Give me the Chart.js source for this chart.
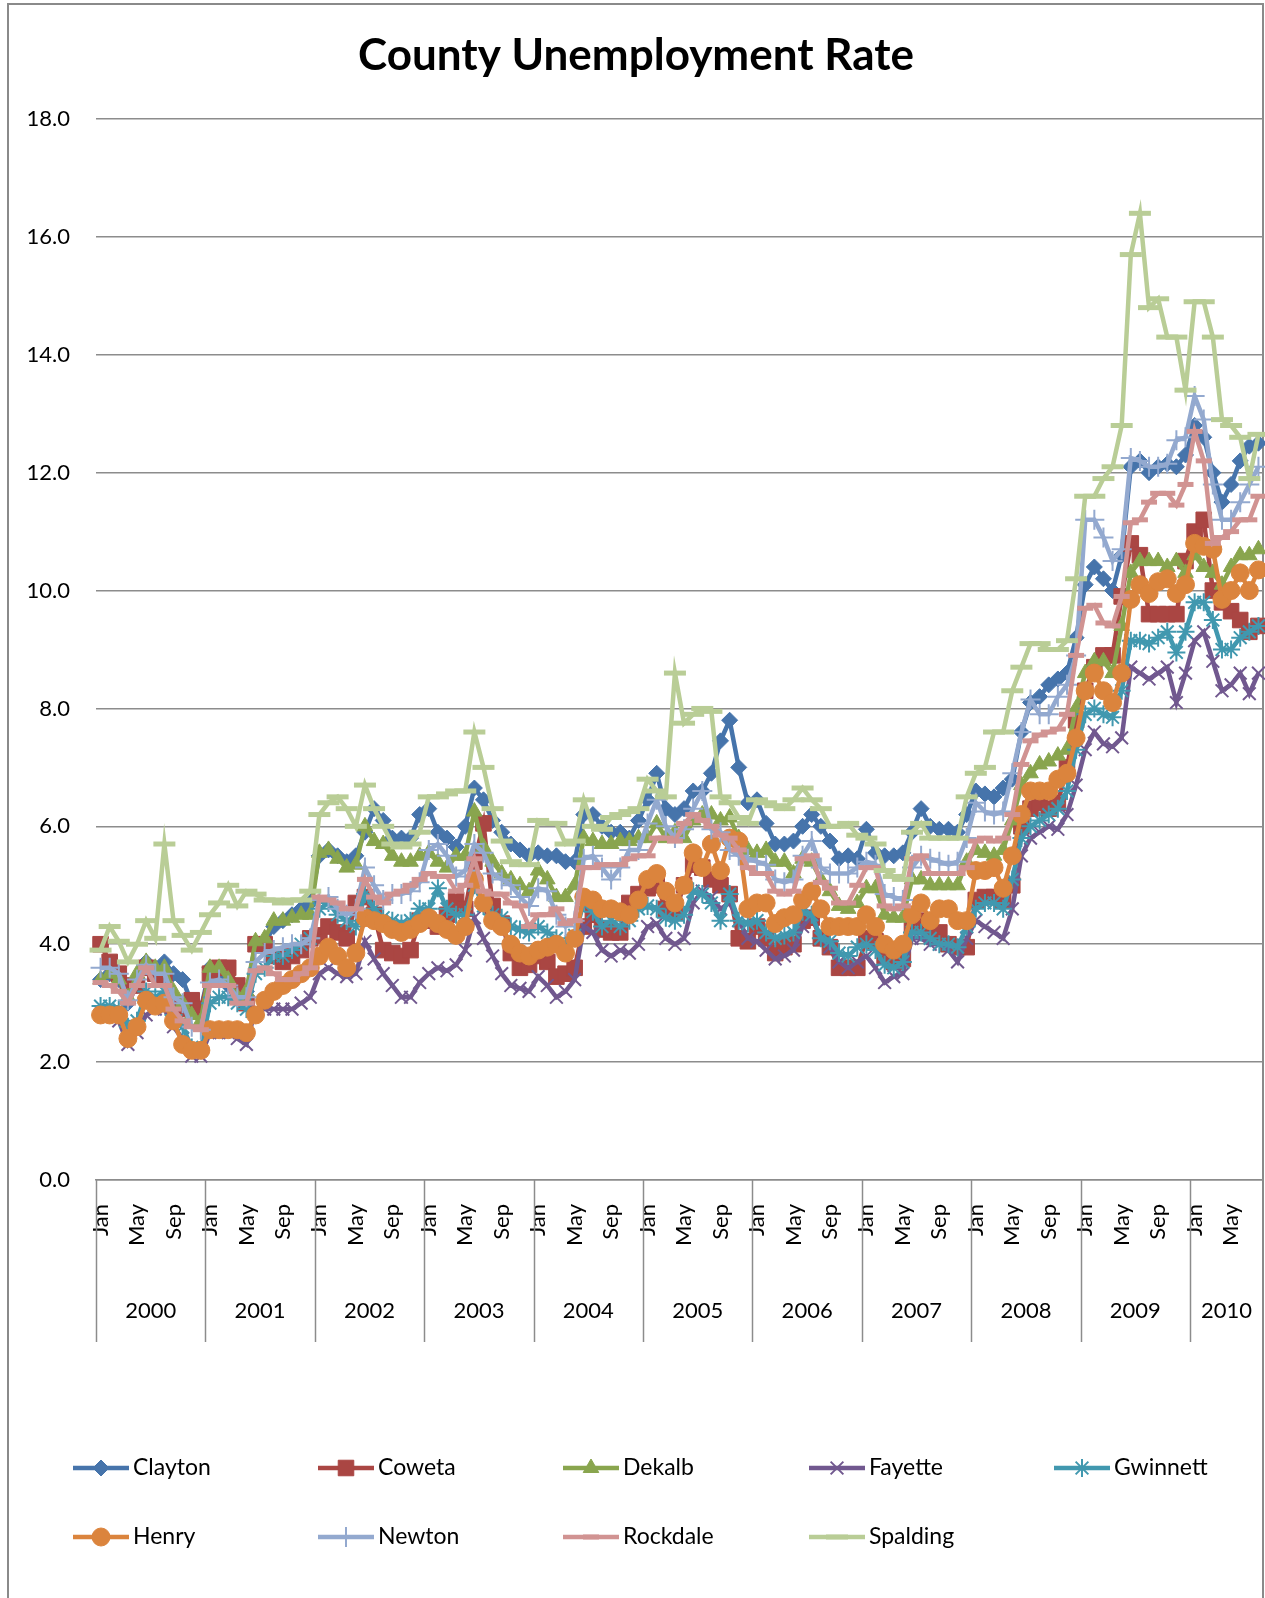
<!DOCTYPE html>
<html>
<head>
<meta charset="utf-8">
<title>County Unemployment Rate</title>
<script src="https://cdn.jsdelivr.net/npm/chart.js@4.4.1/dist/chart.umd.min.js"></script>
<style>
	html, body { margin: 0; padding: 0; background: #fff; overflow: hidden; }
	#frame { position: absolute; left: 7px; top: 3px; width: 1257px; height: 1650px; border: 2px solid #8a8a8a; box-sizing: border-box; }
	#wrap { position: absolute; left: 0; top: 0; width: 1265px; height: 1598px; }
</style>
</head>
<body>
<div id="frame"></div>
<div id="wrap"><canvas id="rateChart" width="1265" height="1598"></canvas></div>
<script>
// monthly rates, Jan 2000 - Aug 2010
const years = [2000, 2001, 2002, 2003, 2004, 2005, 2006, 2007, 2008, 2009, 2010];
const monthNames = ['Jan', 'Feb', 'Mar', 'Apr', 'May', 'Jun', 'Jul', 'Aug', 'Sep', 'Oct', 'Nov', 'Dec'];
const shownMonths = ['Jan', 'May', 'Sep'];
const yTicks = [0, 2, 4, 6, 8, 10, 12, 14, 16, 18];
const counties = ['Clayton', 'Coweta', 'Dekalb', 'Fayette', 'Gwinnett', 'Henry', 'Newton', 'Rockdale', 'Spalding'];

const clayton = [
	3.4, 3.5, 3.4, 3.0, 3.3, 3.7, 3.6, 3.7, 3.5, 3.4, 3.0, 2.9,
	3.6, 3.5, 3.3, 3.1, 3.2, 4.0, 4.0, 4.3, 4.4, 4.5, 4.6, 4.7,
	5.5, 5.6, 5.5, 5.4, 5.5, 5.9, 6.3, 6.1, 5.8, 5.8, 5.8, 6.2,
	6.3, 5.9, 5.8, 5.65, 6.0, 6.65, 6.45, 6.1, 5.9, 5.7, 5.6, 5.5,
	5.55, 5.5, 5.5, 5.4, 5.4, 6.2, 6.2, 6.0, 5.9, 5.9, 5.8, 6.1,
	6.45, 6.9, 6.3, 6.2, 6.3, 6.6, 6.6, 6.9, 7.45, 7.8, 7.0, 6.4,
	6.45, 6.05, 5.7, 5.7, 5.75, 6.0, 6.2, 6.0, 5.75, 5.45, 5.5, 5.45,
	5.95, 5.55, 5.5, 5.5, 5.55, 5.9, 6.3, 6.0, 5.95, 5.95, 5.9, 6.2,
	6.6, 6.55, 6.5, 6.65, 6.8, 7.6, 8.1, 8.2, 8.4, 8.5, 8.6, 9.2,
	10.1, 10.4, 10.2, 10.0, 10.6, 12.1, 12.2, 12.0, 12.1, 12.15, 12.1, 12.3,
	12.8, 12.6, 12.0, 11.5, 11.8, 12.2, 12.45, 12.5
];
const coweta = [
	4.0, 3.7, 3.5, 3.3, 3.3, 3.6, 3.5, 3.4, 3.0, 2.9, 3.05, 2.9,
	3.5, 3.6, 3.6, 3.3, 3.0, 4.0, 4.0, 3.8, 3.7, 3.8, 3.9, 4.1,
	4.15, 4.3, 4.2, 4.1, 4.7, 4.8, 4.5, 3.9, 3.85, 3.8, 3.9, 4.4,
	4.4, 4.3, 4.5, 4.75, 4.6, 5.4, 6.05, 4.65, 4.35, 3.85, 3.6, 3.65,
	3.8, 3.7, 3.45, 3.5, 3.6, 4.3, 4.5, 4.25, 4.2, 4.2, 4.7, 4.85,
	4.95, 5.0, 4.6, 4.55, 5.0, 5.35, 5.3, 5.1, 5.0, 4.85, 4.1, 4.05,
	4.3, 4.1, 3.85, 3.95, 4.0, 4.4, 4.45, 4.1, 3.95, 3.6, 3.6, 3.6,
	4.1, 4.05, 3.8, 3.7, 3.75, 4.3, 4.4, 4.2, 4.2, 4.0, 3.95, 3.95,
	4.75, 4.8, 4.8, 4.75, 5.0, 6.0, 6.3, 6.4, 6.3, 6.4, 7.0, 7.8,
	8.3, 8.7, 8.9, 8.9, 9.9, 10.8, 10.6, 9.6, 9.6, 9.6, 9.6, 10.5,
	11.0, 11.2, 10.0, 9.8, 9.65, 9.5, 9.3, 9.4
];
const dekalb = [
	3.4, 3.5, 3.4, 3.1, 3.5, 3.7, 3.6, 3.6, 3.2, 3.0, 2.8, 2.7,
	3.6, 3.6, 3.4, 3.1, 3.2, 4.05, 4.1, 4.4, 4.4, 4.45, 4.5, 4.5,
	5.55, 5.6, 5.45, 5.3, 5.35, 6.0, 5.75, 5.7, 5.5, 5.4, 5.4, 5.5,
	5.55, 5.4, 5.3, 5.5, 5.5, 6.25, 5.65, 5.4, 5.2, 5.1, 5.0, 4.9,
	5.25, 5.1, 4.8, 4.8, 5.0, 5.8, 5.75, 5.7, 5.7, 5.75, 5.75, 5.8,
	5.8, 6.05, 5.8, 5.9, 5.8, 6.1, 6.2, 6.2, 6.1, 6.15, 5.8, 5.6,
	5.55, 5.6, 5.4, 5.4, 5.2, 5.45, 5.4, 5.1, 4.9, 4.65, 4.6, 4.7,
	4.95, 4.95, 4.5, 4.45, 4.45, 5.1, 5.1, 5.0, 5.0, 5.0, 5.0, 5.4,
	5.6, 5.55, 5.5, 5.6, 6.1, 6.7, 6.9, 7.05, 7.1, 7.2, 7.3, 8.0,
	8.6, 8.8, 8.8, 8.6, 9.4, 10.3, 10.5, 10.5, 10.5, 10.4, 10.5, 10.3,
	10.6, 10.4, 10.3, 10.1, 10.4, 10.6, 10.6, 10.7
];
const fayette = [
	2.85, 2.8, 2.7, 2.3, 2.5, 2.8, 2.9, 2.9, 2.6, 2.4, 2.1, 2.1,
	2.5, 2.5, 2.5, 2.4, 2.3, 2.9, 2.9, 2.9, 2.9, 2.9, 3.0, 3.1,
	3.5, 3.6, 3.5, 3.45, 3.5, 4.05, 3.75, 3.5, 3.3, 3.1, 3.1, 3.35,
	3.5, 3.6, 3.55, 3.65, 3.9, 4.45, 4.1, 3.8, 3.5, 3.3, 3.25, 3.2,
	3.45, 3.3, 3.1, 3.2, 3.4, 4.3, 4.2, 3.9, 3.8, 3.9, 3.85, 4.0,
	4.3, 4.35, 4.1, 4.0, 4.1, 4.7, 4.9, 4.8, 4.6, 4.7, 4.4, 4.1,
	4.05, 3.9, 3.75, 3.8, 3.9, 4.3, 4.5, 4.1, 3.95, 3.7, 3.6, 3.7,
	3.8, 3.6, 3.35, 3.45, 3.5, 4.1, 4.1, 4.0, 4.0, 3.9, 3.7, 4.1,
	4.4, 4.3, 4.2, 4.1, 4.6, 5.5, 5.8, 5.9, 6.0, 5.95, 6.2, 6.7,
	7.3, 7.6, 7.4, 7.35, 7.5, 8.7, 8.6, 8.5, 8.6, 8.7, 8.1, 8.6,
	9.15, 9.3, 8.8, 8.3, 8.4, 8.6, 8.25, 8.6
];
const gwinnett = [
	2.95, 2.95, 2.9, 2.6, 2.7, 3.2, 3.1, 3.2, 2.8, 2.6, 2.25, 2.2,
	3.0, 3.1, 3.1, 3.0, 2.9, 3.5, 3.6, 3.8, 3.8, 3.9, 4.0, 4.1,
	4.6, 4.7, 4.5, 4.4, 4.3, 4.85, 4.6, 4.45, 4.4, 4.35, 4.4, 4.6,
	4.6, 4.95, 4.6, 4.5, 4.5, 5.0, 4.65, 4.5, 4.45, 4.3, 4.25, 4.2,
	4.3, 4.2, 4.1, 4.0, 4.15, 4.7, 4.55, 4.3, 4.4, 4.3, 4.4, 4.6,
	4.65, 4.6, 4.45, 4.4, 4.5, 4.9, 4.85, 4.7, 4.4, 4.85, 4.4, 4.35,
	4.4, 4.2, 4.1, 4.15, 4.2, 4.55, 4.5, 4.1, 4.05, 3.85, 3.8, 3.95,
	4.0, 3.9, 3.65, 3.6, 3.7, 4.2, 4.2, 4.1, 4.0, 4.0, 3.95, 4.3,
	4.6, 4.7, 4.7, 4.6, 5.1, 5.8, 6.0, 6.1, 6.2, 6.3, 6.6, 7.3,
	7.9, 8.0, 7.9, 7.85, 8.3, 9.15, 9.15, 9.1, 9.2, 9.3, 8.95, 9.3,
	9.8, 9.8, 9.5, 9.0, 9.0, 9.2, 9.3, 9.4
];
const henry = [
	2.8, 2.8, 2.8, 2.4, 2.6, 3.05, 2.95, 3.0, 2.7, 2.3, 2.2, 2.2,
	2.55, 2.55, 2.55, 2.55, 2.5, 2.8, 3.05, 3.2, 3.3, 3.4, 3.5, 3.6,
	3.8, 3.95, 3.8, 3.6, 3.85, 4.45, 4.4, 4.35, 4.25, 4.2, 4.25, 4.35,
	4.45, 4.35, 4.25, 4.15, 4.3, 5.1, 4.7, 4.4, 4.3, 4.0, 3.85, 3.8,
	3.9, 3.95, 4.0, 3.85, 4.1, 4.8, 4.75, 4.6, 4.6, 4.55, 4.5, 4.75,
	5.1, 5.2, 4.9, 4.7, 5.0, 5.55, 5.3, 5.7, 5.25, 5.8, 5.75, 4.6,
	4.7, 4.7, 4.35, 4.45, 4.5, 4.75, 4.9, 4.6, 4.3, 4.3, 4.3, 4.3,
	4.5, 4.3, 4.0, 3.9, 4.0, 4.5, 4.7, 4.4, 4.6, 4.6, 4.4, 4.4,
	5.25, 5.25, 5.3, 4.95, 5.5, 6.2, 6.6, 6.6, 6.6, 6.8, 6.9, 7.5,
	8.3, 8.6, 8.3, 8.1, 8.6, 9.85, 10.1, 9.95, 10.15, 10.2, 9.95, 10.1,
	10.8, 10.75, 10.7, 9.85, 10.0, 10.3, 10.0, 10.35
];
const newton = [
	3.6, 3.6, 3.5, 3.05, 3.4, 3.65, 3.5, 3.5, 3.1, 3.0, 2.6, 2.55,
	3.35, 3.4, 3.3, 3.1, 3.1, 3.7, 3.85, 3.9, 3.95, 4.0, 4.0, 4.1,
	4.75, 4.8, 4.6, 4.5, 4.6, 5.3, 5.0, 4.75, 4.85, 4.85, 4.9, 5.05,
	5.6, 5.7, 5.5, 5.15, 5.25, 5.7, 5.55, 5.2, 5.1, 5.0, 4.8, 4.65,
	4.95, 4.9, 4.5, 4.3, 4.4, 5.45, 5.5, 5.3, 5.1, 5.3, 5.6, 5.6,
	6.05, 6.45, 6.0, 5.8, 5.95, 6.3, 6.6, 5.95, 5.9, 5.6, 5.5, 5.45,
	5.4, 5.35, 5.1, 5.05, 5.1, 5.5, 5.75, 5.3, 5.2, 5.2, 5.2, 5.3,
	5.4, 5.35, 4.85, 4.8, 4.75, 5.3, 5.5, 5.45, 5.4, 5.35, 5.4, 5.8,
	6.4, 6.25, 6.2, 6.25, 6.9, 7.6, 8.15, 7.9, 7.9, 8.2, 8.4, 8.9,
	11.2, 11.2, 10.9, 10.5, 10.7, 12.25, 12.2, 12.1, 12.1, 12.15, 12.55, 12.6,
	13.3, 12.9, 11.8, 11.2, 11.2, 11.5, 11.8, 12.1
];
const rockdale = [
	3.35, 3.3, 3.2, 3.0, 3.3, 3.6, 3.3, 3.3, 2.9, 2.7, 2.6, 2.55,
	3.3, 3.3, 3.3, 3.0, 3.0, 3.55, 3.6, 3.5, 3.4, 3.4, 3.5, 3.6,
	4.8, 4.75, 4.7, 4.6, 4.6, 5.1, 4.8, 4.7, 4.85, 4.9, 5.0, 5.1,
	5.2, 5.15, 5.15, 4.9, 5.0, 5.45, 4.9, 4.85, 4.85, 4.7, 4.65, 4.3,
	4.5, 4.5, 4.6, 4.35, 4.4, 5.3, 5.3, 5.35, 5.35, 5.35, 5.45, 5.5,
	5.5, 5.8, 5.8, 5.75, 6.05, 6.2, 6.1, 6.0, 5.85, 5.8, 5.6, 5.3,
	5.2, 5.2, 4.9, 4.85, 4.9, 5.45, 5.5, 5.05, 4.95, 4.7, 4.7, 5.0,
	5.3, 5.3, 4.65, 4.6, 4.65, 5.45, 5.5, 5.2, 5.2, 5.2, 5.2, 5.3,
	5.75, 5.8, 5.75, 5.8, 6.2, 7.05, 7.45, 7.55, 7.6, 7.65, 7.9, 8.9,
	9.7, 9.75, 9.45, 9.4, 9.9, 11.15, 11.2, 11.5, 11.65, 11.65, 11.45, 11.8,
	12.7, 12.2, 10.8, 10.9, 11.0, 11.2, 11.2, 11.6
];
const spalding = [
	3.9, 4.3, 4.05, 3.7, 4.0, 4.4, 4.1, 5.7, 4.4, 4.15, 3.9, 4.2,
	4.5, 4.7, 5.0, 4.65, 4.9, 4.85, 4.75, 4.75, 4.7, 4.75, 4.75, 4.9,
	6.2, 6.4, 6.5, 6.3, 6.0, 6.7, 6.3, 6.0, 5.7, 5.65, 5.7, 5.9,
	6.5, 6.5, 6.55, 6.6, 6.6, 7.6, 7.0, 6.3, 5.75, 5.4, 5.35, 5.35,
	6.1, 6.05, 6.05, 5.7, 5.75, 6.45, 6.0, 5.95, 6.15, 6.2, 6.25, 6.3,
	6.8, 6.6, 6.5, 8.6, 7.75, 7.9, 8.0, 7.95, 6.5, 6.4, 6.15, 6.05,
	6.45, 6.4, 6.35, 6.3, 6.45, 6.65, 6.45, 6.3, 6.0, 6.0, 6.05, 5.85,
	5.8, 5.7, 5.25, 5.15, 5.1, 5.9, 6.05, 5.8, 5.8, 5.8, 5.8, 6.5,
	6.9, 7.0, 7.6, 7.6, 8.3, 8.7, 9.1, 9.1, 9.0, 9.0, 9.15, 10.2,
	11.6, 11.6, 11.9, 12.1, 12.8, 15.7, 16.4, 14.8, 14.95, 14.3, 14.3, 13.4,
	14.9, 14.9, 14.3, 12.9, 12.8, 12.6, 11.9, 12.65
];

const seriesValues = [clayton, coweta, dekalb, fayette, gwinnett, henry, newton, rockdale, spalding];
const seriesColors = ['#4674ab', '#aa4643', '#89a54e', '#71588f', '#4198af', '#db843d', '#93a9cf', '#d19392', '#b9cd96'];
const seriesMarkers = ['rectRot', 'rect', 'triangle', 'crossRot', 'star', 'circle', 'cross', 'line', 'line'];
const markerRadius = [8, 11, 9, 9, 9, 9, 10, 8, 11];
const markerBorder = [1, 1, 1, 2, 2, 1, 2, 5, 5];

// category labels: one per month
const monthOf = [];
const categories = [];
years.forEach(function (yr) {
	monthNames.forEach(function (m) {
		if (categories.length < clayton.length) {
			monthOf.push(m);
			categories.push(m + ' ' + yr);
		}
	});
});

const FONT = 'Lato, Carlito, "Open Sans", sans-serif';
Chart.defaults.font.family = FONT;
Chart.defaults.color = '#000';

const datasets = counties.map(function (name, i) {
	return {
		label: name,
		data: seriesValues[i],
		borderColor: seriesColors[i],
		backgroundColor: seriesColors[i],
		borderWidth: 4.5,
		pointStyle: seriesMarkers[i],
		pointRadius: markerRadius[i],
		pointBorderWidth: markerBorder[i],
		pointBackgroundColor: seriesColors[i],
		pointBorderColor: seriesColors[i],
		tension: 0,
		clip: false,
		order: counties.length - 1 - i
	};
});

// multi-level axis labels, title and legend
const decorPlugin = {
	id: 'countyDecor',
	afterDraw: function (chart) {
		const ctx = chart.ctx;
		const xs = chart.scales.x;
		const area = chart.chartArea;
		const half = (xs.getPixelForValue(1) - xs.getPixelForValue(0)) / 2;
		const n = categories.length;
		ctx.save();

		// year separators and year labels
		ctx.strokeStyle = '#8c8c8c';
		ctx.lineWidth = 1.5;
		ctx.fillStyle = '#000';
		ctx.font = '22px ' + FONT;
		ctx.textAlign = 'center';
		ctx.textBaseline = 'middle';
		years.forEach(function (yr, k) {
			const first = k * 12;
			if (first >= n) return;
			const start = xs.getPixelForValue(first) - half;
			const last = Math.min(first + 11, n - 1);
			const end = (first + 12 <= n) ? xs.getPixelForValue(last) + half : area.right;
			ctx.beginPath();
			ctx.moveTo(Math.round(start) + 0.5, area.bottom);
			ctx.lineTo(Math.round(start) + 0.5, 1342);
			ctx.stroke();
			ctx.fillText(String(yr), (start + end) / 2, 1311);
		});

		// title
		ctx.font = 'bold 44px ' + FONT;
		ctx.fillText('County Unemployment Rate', 636, 56);

		// legend
		const cols = [73, 318, 563, 809, 1054];
		const rows = [1468, 1537];
		ctx.font = '23px ' + FONT;
		ctx.textAlign = 'left';
		counties.forEach(function (name, i) {
			const x0 = cols[i % 5];
			const y0 = rows[Math.floor(i / 5)];
			ctx.strokeStyle = seriesColors[i];
			ctx.fillStyle = seriesColors[i];
			ctx.lineWidth = 4.5;
			ctx.beginPath();
			ctx.moveTo(x0, y0);
			ctx.lineTo(x0 + 56, y0);
			ctx.stroke();
			if (Chart.helpers && Chart.helpers.drawPoint) {
				ctx.lineWidth = markerBorder[i];
				Chart.helpers.drawPoint(ctx, {
					pointStyle: seriesMarkers[i],
					radius: markerRadius[i],
					rotation: 0,
					borderWidth: markerBorder[i]
				}, x0 + 28, y0);
			}
			ctx.fillStyle = '#000';
			ctx.fillText(name, x0 + 60, y0);
		});
		ctx.restore();
	}
};

const chartCanvas = document.getElementById('rateChart');
new Chart(chartCanvas.getContext('2d'), {
	type: 'line',
	data: { labels: categories, datasets: datasets },
	options: {
		responsive: false,
		animation: false,
		devicePixelRatio: 1,
		events: [],
		layout: { autoPadding: false, padding: { top: 119, right: 2, left: 0, bottom: 0 } },
		plugins: {
			legend: { display: false },
			title: { display: false },
			tooltip: { enabled: false }
		},
		scales: {
			x: {
				type: 'category',
				offset: true,
				grid: { display: false, drawTicks: false },
				border: { display: true, color: '#8c8c8c', width: 1.5 },
				ticks: {
					autoSkip: false,
					maxRotation: 90,
					minRotation: 90,
					padding: 24,
					font: { size: 22 },
					color: '#000',
					callback: function (value, index) {
						const m = monthOf[index];
						return shownMonths.indexOf(m) >= 0 ? m : '';
					}
				},
				afterFit: function (scale) {
					scale.height = 1598 - 1180;
					scale.paddingLeft = 0;
					scale.paddingRight = 0;
				}
			},
			y: {
				min: 0,
				max: 18,
				afterBuildTicks: function (scale) {
					scale.ticks = yTicks.map(function (v) { return { value: v }; });
				},
				grid: { color: '#8c8c8c', lineWidth: 1.5, drawTicks: false },
				border: { display: false },
				ticks: {
					padding: 26,
					font: { size: 22 },
					color: '#000',
					callback: function (v) { return Number(v).toFixed(1); }
				},
				afterFit: function (scale) {
					scale.width = 96;
				}
			}
		}
	},
	plugins: [decorPlugin]
});
</script>
</body>
</html>
